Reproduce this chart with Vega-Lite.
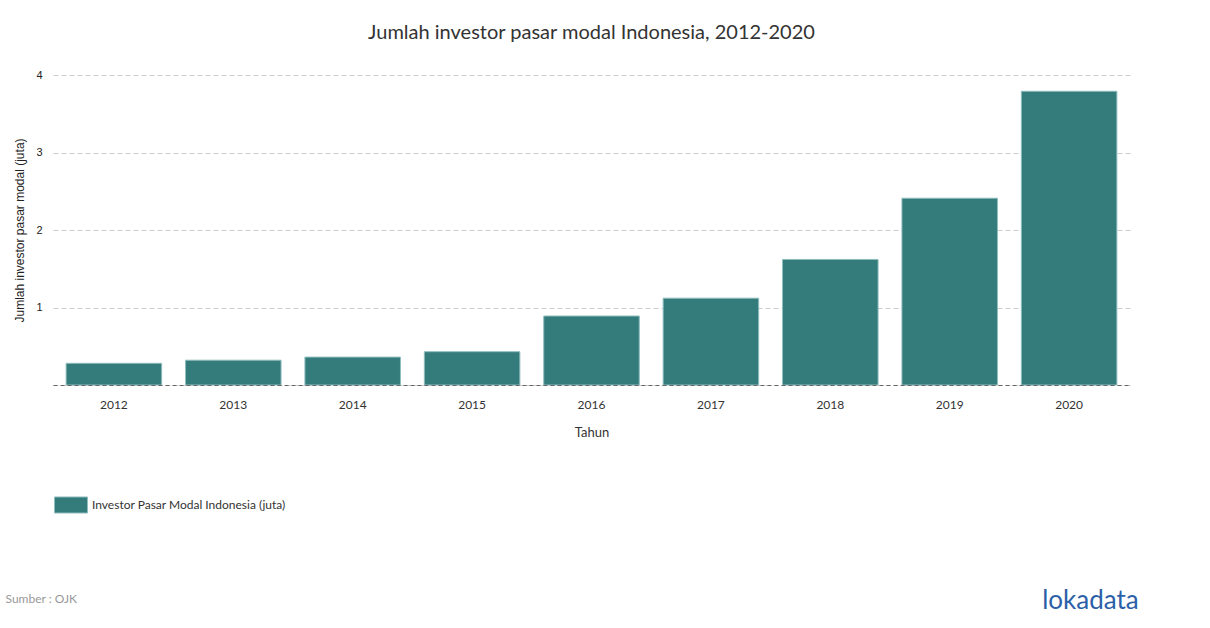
{
  "$schema": "https://vega.github.io/schema/vega-lite/v6.json",
  "autosize": {"type": "none"},
  "width": 1077,
  "height": 310,
  "padding": {"left": 53, "top": 75, "right": 80, "bottom": 243},
  "background": "white",
  "title": {
    "text": "Jumlah investor pasar modal Indonesia, 2012-2020",
    "font": "Lato",
    "fontSize": 20,
    "fontWeight": "normal",
    "color": "#333333",
    "anchor": "middle",
    "offset": 6,
    "baseline": "bottom"
  },
  "data": {
    "values": [
      {"tahun": "2012", "investor": 0.28, "seri": "Investor Pasar Modal Indonesia (juta)"},
      {"tahun": "2013", "investor": 0.32, "seri": "Investor Pasar Modal Indonesia (juta)"},
      {"tahun": "2014", "investor": 0.36, "seri": "Investor Pasar Modal Indonesia (juta)"},
      {"tahun": "2015", "investor": 0.43, "seri": "Investor Pasar Modal Indonesia (juta)"},
      {"tahun": "2016", "investor": 0.89, "seri": "Investor Pasar Modal Indonesia (juta)"},
      {"tahun": "2017", "investor": 1.12, "seri": "Investor Pasar Modal Indonesia (juta)"},
      {"tahun": "2018", "investor": 1.62, "seri": "Investor Pasar Modal Indonesia (juta)"},
      {"tahun": "2019", "investor": 2.41, "seri": "Investor Pasar Modal Indonesia (juta)"},
      {"tahun": "2020", "investor": 3.79, "seri": "Investor Pasar Modal Indonesia (juta)"}
    ]
  },
  "layer": [
    {
      "mark": {"type": "bar", "stroke": "#8fbcbc", "strokeWidth": 1},
      "encoding": {
        "x": {
          "field": "tahun",
          "type": "ordinal",
          "scale": {"paddingInner": 0.2, "paddingOuter": 0.11},
          "axis": {
            "title": "Tahun",
            "labelAngle": 0,
            "ticks": false,
            "grid": false,
            "domainColor": "#666666",
            "domainDash": [4, 3],
            "domainWidth": 1,
            "labelFont": "Lato",
            "labelFontSize": 12,
            "labelColor": "#333333",
            "labelPadding": 14,
            "titleFont": "Lato",
            "titleFontSize": 13,
            "titleFontWeight": "normal",
            "titleColor": "#333333",
            "titleY": 47,
            "titleBaseline": "middle",
            "zindex": 1
          }
        },
        "y": {
          "field": "investor",
          "type": "quantitative",
          "scale": {"domain": [0, 4]},
          "axis": {
            "title": "Jumlah investor pasar modal (juta)",
            "values": [0, 1, 2, 3, 4],
            "labelExpr": "datum.value == 0 ? '' : datum.label",
            "domain": false,
            "ticks": false,
            "gridColor": "#cccccc",
            "gridDash": [5, 3],
            "labelFont": "Liberation Sans",
            "labelFontSize": 11,
            "labelColor": "#222222",
            "labelPadding": 11,
            "titleFont": "Liberation Sans",
            "titleFontSize": 12,
            "titleFontWeight": "normal",
            "titleColor": "#222222",
            "titlePadding": 9
          }
        },
        "color": {
          "field": "seri",
          "type": "nominal",
          "scale": {"range": ["#347b7c"]},
          "legend": {
            "title": null,
            "orient": "none",
            "legendX": 1,
            "legendY": 413,
            "padding": 0,
            "symbolType": "M-1,-0.485H1V0.485H-1Z",
            "symbolSize": 1089,
            "symbolStrokeColor": "#8fbcbc",
            "symbolStrokeWidth": 1,
            "symbolOpacity": 1,
            "labelFont": "Lato",
            "labelFontSize": 12,
            "labelColor": "#333333",
            "labelOffset": 4,
            "labelLimit": 500
          }
        }
      }
    },
    {
      "mark": {"type": "bar", "opacity": 0},
      "encoding": {
        "x": {
          "field": "tahun",
          "type": "ordinal",
          "axis": {
            "orient": "bottom",
            "domain": false,
            "ticks": false,
            "labels": false,
            "grid": false,
            "title": "Sumber : OJK",
            "titleFont": "Lato",
            "titleFontSize": 12,
            "titleFontWeight": "normal",
            "titleColor": "#999999",
            "titleX": -48,
            "titleY": 213,
            "titleAlign": "left",
            "titleAnchor": "start",
            "titleBaseline": "middle"
          }
        },
        "y": {
          "field": "investor",
          "type": "quantitative",
          "axis": {
            "orient": "right",
            "domain": false,
            "ticks": false,
            "labels": false,
            "grid": false,
            "title": "lokadata",
            "titleAngle": 0,
            "titleFont": "Lato",
            "titleFontSize": 26,
            "titleFontWeight": "normal",
            "titleColor": "#2c5fa8",
            "titleX": -40,
            "titleY": 525,
            "titleAlign": "center",
            "titleBaseline": "middle"
          }
        }
      }
    }
  ],
  "resolve": {"axis": {"x": "independent", "y": "independent"}},
  "config": {"view": {"stroke": null}}
}
